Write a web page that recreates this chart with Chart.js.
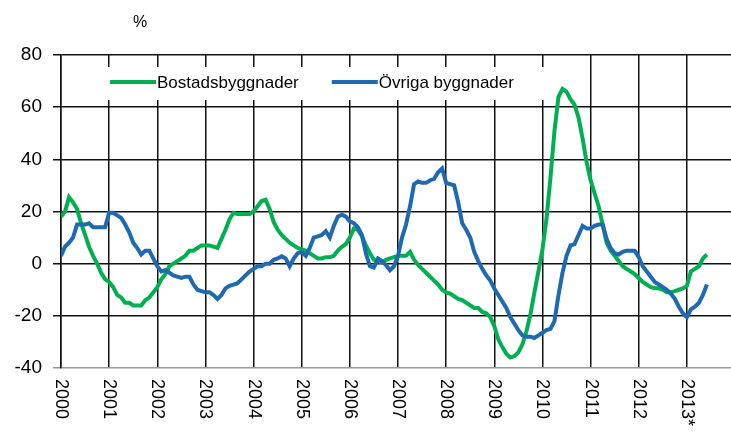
<!DOCTYPE html>
<html>
<head>
<meta charset="utf-8">
<script src="https://cdn.jsdelivr.net/npm/chart.js@4"></script>
<style>
  body { margin: 0; background: #fff; }
  canvas { display: block; }
</style>
</head>
<body>
<canvas id="chart" width="731" height="439"></canvas>
<script>
// Year labels on the x axis (one gridline per January)
const years = ['2000', '2001', '2002', '2003', '2004', '2005', '2006',
    '2007', '2008', '2009', '2010', '2011', '2012', '2013*'];

const seriesNames = ['Bostadsbyggnader', 'Övriga byggnader'];

// Monthly values, Jan 2000 - Jun 2013, %
const bostad = [
    18, 20, 25.5, 23.5, 21, 15.5, 11, 6.5, 3, 0, -3.5, -6,
    -7, -9, -12, -13, -15, -15, -16, -16, -16, -14, -13, -11,
    -9, -6, -4, -1, 0, 1, 2, 3, 5, 5, 6, 7,
    7, 7, 6.5, 6, 9.5, 13, 17, 19.5, 19, 19, 19, 19,
    20, 22, 24, 24.5, 21, 16, 13, 11, 9.5, 8, 7, 6,
    5.5, 5, 4, 3, 2, 2, 2.5, 2.5, 3, 5, 6.5, 7.5,
    10, 13.5, 13, 10.5, 7, 4, 1.5, 1, 0.5, 1.5, 2, 2.5,
    3, 3, 3, 4.5, 1.5, -0.5, -2, -3.5, -5, -6.5, -8, -10,
    -11, -11.5, -12.5, -13.5, -14, -15, -16, -17, -17, -18.5, -19, -20.5,
    -24, -29, -32, -34.5, -36, -35.5, -34, -31, -26, -19.5, -11, -3,
    5.5, 17, 33, 51, 64, 67, 66, 63, 61, 56, 48, 39,
    32, 27, 22, 15, 8, 5, 3, 1, -1, -2, -3, -4,
    -5.5, -7, -8, -9, -9.3, -9.5, -10, -11, -11, -10.5, -10, -9.5,
    -8.5, -3, -2, -1, 2, 3.5
];

const ovriga = [
    3, 6.5, 8, 10, 15, 15, 15, 15.5, 14, 14, 14, 14,
    19.5, 19.5, 18.5, 17.5, 15, 12, 8, 6, 3.5, 5, 5, 2,
    -1, -3, -2.5, -3.5, -4.5, -5, -5.5, -5, -5, -8, -10, -10.5,
    -11, -11, -12, -13.5, -12, -9.5, -8.5, -8, -7.5, -6, -4.5, -3,
    -2, -1, -1, 0, 0, 1.5, 2, 2.8, 2, -1, 2, 4,
    4.5, 3, 6, 10, 10.5, 11, 12.5, 10, 14.5, 18, 18.8, 18,
    16.2, 15.5, 14, 11, 4, -1, -1.5, 2, 1, -0.5, -2.5, -1,
    3, 10, 15, 22, 30.5, 31.5, 31, 31, 32, 32.5, 35, 36.5,
    31, 30.5, 30, 23.5, 15.5, 13, 10, 4.5, 1, -2, -4.5, -6.5,
    -9.5, -12, -14.5, -17, -20.5, -23, -25.5, -27.5, -28, -28, -28.5, -27.5,
    -26.5, -25.5, -25, -22, -12, -3.5, 3, 7, 7.5, 11, 14.5, 13.5,
    13.5, 14.5, 15, 15, 9.5, 6, 4, 3.5, 4.5, 5, 5, 5,
    2.5, -1, -3, -5, -7, -8, -9, -10, -11.5, -13.5, -16.5, -19,
    -20.5, -17.5, -16.5, -15, -12, -8
];

const yTicks = [-40, -20, 0, 20, 40, 60, 80];

const FONT = 'Liberation Sans, Arial, sans-serif';
const GREEN = '#00b050';
const BLUE = '#1f69b3';

const toPoints = arr => arr.map((v, i) => ({ x: i, y: v }));

// legend drawn inside the plot, on a white box over the gridlines
const innerLegend = {
    id: 'innerLegend',
    beforeDatasetsDraw(chart) {
        const ctx = chart.ctx;
        const ca = chart.chartArea;
        const y = ca.top + 27;
        ctx.save();
        ctx.fillStyle = '#fff';
        ctx.fillRect(ca.left + 40, ca.top + 12, 448, 33);
        ctx.font = '17px ' + FONT;
        ctx.textBaseline = 'middle';
        let x = ca.left + 49;
        chart.data.datasets.forEach(ds => {
            ctx.strokeStyle = ds.borderColor;
            ctx.lineWidth = 4;
            ctx.beginPath();
            ctx.moveTo(x, y);
            ctx.lineTo(x + 46, y);
            ctx.stroke();
            ctx.fillStyle = '#000';
            ctx.fillText(ds.label, x + 47, y + 1);
            x += 47 + ctx.measureText(ds.label).width + 33;
        });
        ctx.restore();
    }
};

// rotated year labels (reading top to bottom) and the unit label
const extraText = {
    id: 'extraText',
    afterDraw(chart) {
        const ctx = chart.ctx;
        const ca = chart.chartArea;
        const xs = chart.scales.x;
        ctx.save();
        ctx.fillStyle = '#000';
        ctx.font = '18px ' + FONT;
        ctx.textAlign = 'left';
        ctx.textBaseline = 'middle';
        xs.ticks.forEach((t, k) => {
            ctx.save();
            ctx.translate(xs.getPixelForValue(t.value), ca.bottom + 11);
            ctx.rotate(Math.PI / 2);
            ctx.fillText(years[k], 0, 0);
            ctx.restore();
        });
        ctx.font = '16px ' + FONT;
        ctx.textAlign = 'center';
        ctx.fillText('%', ca.left + 79, 23);
        ctx.restore();
    }
};

new Chart(document.getElementById('chart').getContext('2d'), {
    type: 'line',
    data: {
        datasets: [{
            label: seriesNames[0],
            data: toPoints(bostad),
            borderColor: GREEN,
            borderWidth: 4,
            pointRadius: 0,
            tension: 0,
            order: 1
        }, {
            label: seriesNames[1],
            data: toPoints(ovriga),
            borderColor: BLUE,
            borderWidth: 4,
            pointRadius: 0,
            tension: 0,
            order: 0
        }]
    },
    options: {
        responsive: false,
        animation: false,
        layout: { padding: { top: 55, right: 0, bottom: 0, left: 0 } },
        plugins: {
            legend: { display: false },
            tooltip: { enabled: false }
        },
        scales: {
            x: {
                type: 'linear',
                min: 0,
                max: 167,
                afterBuildTicks: s => { s.ticks = years.map((_, k) => ({ value: k * 12 })); },
                afterFit: s => { s.height = 71; },
                ticks: { display: false },
                grid: { color: '#111', lineWidth: 1.5, drawTicks: false },
                border: { display: false }
            },
            y: {
                min: -40,
                max: 80,
                afterBuildTicks: s => { s.ticks = yTicks.map(v => ({ value: v })); },
                afterFit: s => { s.width = 61; },
                ticks: {
                    color: '#000',
                    padding: 11,
                    font: { family: FONT, size: 19 }
                },
                grid: {
                    color: c => (c.tick && c.tick.value === -40) ? '#9a9a9a' : '#111',
                    lineWidth: 1.5,
                    tickLength: 8
                },
                border: { color: '#111', width: 1.5 }
            }
        }
    },
    plugins: [innerLegend, extraText]
});
</script>
</body>
</html>
